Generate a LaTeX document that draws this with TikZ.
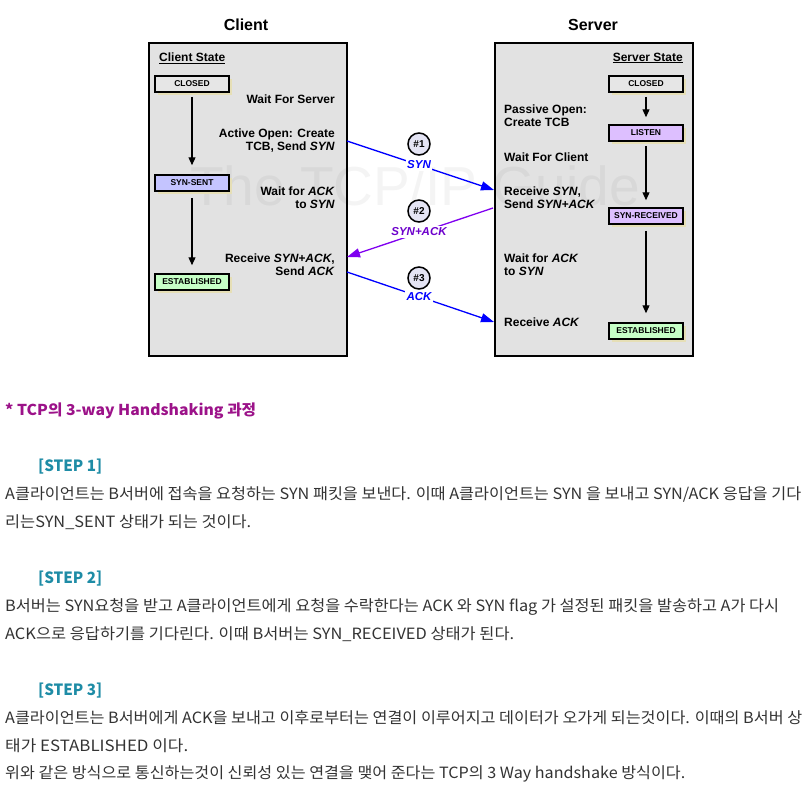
\documentclass[tikz,border=0pt]{standalone}
\usepackage{fontspec}
\setmainfont{Liberation Sans}
\newfontfamily\kr{Noto Sans CJK KR}
\usepackage{graphicx}
\usetikzlibrary{arrows.meta,shadows}
\definecolor{panelgray}{HTML}{E2E2E2}
\definecolor{boxgray}{HTML}{E6E6E6}
\definecolor{synsentc}{HTML}{C4C4FF}
\definecolor{listenc}{HTML}{DDBFFF}
\definecolor{estabc}{HTML}{C6FFC6}
\definecolor{shadowc}{HTML}{E6DFB6}
\definecolor{circc}{HTML}{E4E4F4}
\definecolor{blueln}{HTML}{0000FF}
\definecolor{purpln}{HTML}{8000F0}
\definecolor{headc}{HTML}{9C1289}
\definecolor{stepc}{HTML}{1E8CA6}
\definecolor{bodyc}{HTML}{333333}
\newcommand\fitw[2]{\resizebox{#1pt}{\height}{#2}}
\tikzset{
  panel/.style={draw=black, line width=2pt, fill=panelgray},
  statebox/.style={draw=black, line width=1.5pt, minimum width=74pt, minimum height=16pt, inner sep=0pt,
    font=\bfseries\fontsize{8.5}{9}\selectfont,
    drop shadow={shadow xshift=3pt, shadow yshift=-3pt, fill=shadowc, opacity=1}},
  lbl/.style={font=\bfseries\fontsize{12}{13}\selectfont, inner sep=0pt},
  ttl/.style={font=\bfseries\fontsize{16}{18}\selectfont, inner sep=0pt},
  stateflow/.style={line width=1.2pt, -{Triangle[length=8pt,width=7pt]}},
  msgnum/.style={circle, draw=black, line width=1.5pt, fill=circc, minimum size=22pt, inner sep=0pt,
    font=\bfseries\fontsize{10}{12}\selectfont},
  msglbl/.style={fill=white, inner sep=1.5pt, font=\bfseries\itshape\fontsize{11.5}{13}\selectfont},
  msgline/.style={line width=1.3pt, -{Triangle[length=13pt,width=9pt]}},
  body/.style={anchor=base west, inner sep=0pt, text=bodyc, font=\kr\fontsize{15.5}{18}\selectfont},
  stepl/.style={anchor=base west, inner sep=0pt, text=stepc, font=\kr\bfseries\fontsize{15.5}{18}\selectfont},
}
\begin{document}
\begin{tikzpicture}[x=1pt,y=-1pt]
\useasboundingbox[fill=white] (0,0) rectangle (811,785);
% titles
\node[ttl] (ctitle) at (246,25) {Client};
\node[ttl] (stitle) at (593,25) {Server};
% panels
\node[panel, anchor=north west, minimum width=198pt, minimum height=313pt, inner sep=0pt] (cpanel) at (148,42) {};
\node[panel, anchor=north west, minimum width=198pt, minimum height=313pt, inner sep=0pt] (spanel) at (494,42) {};
% watermark
\node[text=black, opacity=0.045, inner sep=0pt, font=\fontsize{55}{60}\selectfont] (wm) at (415,186) {\fitw{450}{The TCP/IP Guide}};
% client side
\node[lbl, anchor=west] (cstate) at (159,58) {\underline{Client State}};
\node[statebox, fill=boxgray] (cclosed) at (192,84) {CLOSED};
\node[statebox, fill=synsentc] (csynsent) at (192,183) {SYN-SENT};
\node[statebox, fill=estabc] (cestab) at (192,282) {ESTABLISHED};
\draw[stateflow, shorten <=4pt, shorten >=9pt] (cclosed) -- (csynsent);
\draw[stateflow, shorten <=6pt, shorten >=8pt] (csynsent) -- (cestab);
\node[lbl, anchor=east] (cwait) at (335,99) {Wait For Server};
\node[lbl, anchor=east, align=right] (cactive) at (335,140.5) {Active Open: Create\\TCB, Send \textit{SYN}};
\node[lbl, anchor=east, align=right] (cwaitack) at (335,197.5) {Wait for \textit{ACK}\\to \textit{SYN}};
\node[lbl, anchor=east, align=right] (crecv) at (335,264.5) {Receive \textit{SYN+ACK},\\Send \textit{ACK}};
% server side
\node[lbl, anchor=east] (sstate) at (683,58) {\underline{Server State}};
\node[statebox, fill=boxgray] (sclosed) at (646,84) {CLOSED};
\node[statebox, fill=listenc] (slisten) at (646,133) {LISTEN};
\node[statebox, fill=listenc] (ssynrcv) at (646,216) {SYN-RECEIVED};
\node[statebox, fill=estabc] (sestab) at (646,331) {ESTABLISHED};
\draw[stateflow, shorten <=4pt, shorten >=7pt] (sclosed) -- (slisten);
\draw[stateflow, shorten <=4pt, shorten >=7pt] (slisten) -- (ssynrcv);
\draw[stateflow, shorten <=6pt, shorten >=9pt] (ssynrcv) -- (sestab);
\node[lbl, anchor=west, align=left] (spassive) at (504,115.5) {Passive Open:\\Create TCB};
\node[lbl, anchor=west] (swait) at (504,157) {Wait For Client};
\node[lbl, anchor=west, align=left] (srecv) at (504,197.5) {Receive \textit{SYN},\\Send \textit{SYN+ACK}};
\node[lbl, anchor=west, align=left] (swaitack) at (504,264.5) {Wait for \textit{ACK}\\to \textit{SYN}};
\node[lbl, anchor=west] (srecvack) at (504,322) {Receive \textit{ACK}};
% message endpoints
\coordinate (m1a) at (347,141);
\coordinate (m1b) at (494,190);
\coordinate (m2a) at (493,208);
\coordinate (m2b) at (347,257);
\coordinate (m3a) at (347,272);
\coordinate (m3b) at (494,322);
\draw[msgline, draw=blueln, fill=blueln] (m1a) -- (m1b);
\draw[msgline, draw=purpln, fill=purpln] (m2a) -- (m2b);
\draw[msgline, draw=blueln, fill=blueln] (m3a) -- (m3b);
\node[msglbl, text=blueln] (l1) at (419,165) {SYN};
\node[msglbl, text=purpln!85!black] (l2) at (419,232) {SYN+ACK};
\node[msglbl, text=blueln] (l3) at (419,297) {ACK};
\node[msgnum] (n1) at (419,144) {\#1};
\node[msgnum] (n2) at (419,211) {\#2};
\node[msgnum] (n3) at (419,278) {\#3};
% text below
\node[anchor=base west, inner sep=0pt, text=headc, font=\kr\bfseries\fontsize{15}{18}\selectfont] (head) at (5,415.5) {\fitw{251}{* TCP의 3-way Handshaking 과정}};
\node[stepl] (s1) at (38,471.5) {\fitw{64}{[STEP 1]}};
\node[body] (b1) at (5,499.5) {\fitw{796}{A클라이언트는 B서버에 접속을 요청하는 SYN 패킷을 보낸다. 이때 A클라이언트는 SYN 을 보내고 SYN/ACK 응답을 기다}};
\node[body] (b2) at (5,527.5) {\fitw{246}{리는SYN\_SENT 상태가 되는 것이다.}};
\node[stepl] (s2) at (38,583.5) {\fitw{64}{[STEP 2]}};
\node[body] (b3) at (5,611.5) {\fitw{774}{B서버는 SYN요청을 받고 A클라이언트에게 요청을 수락한다는 ACK 와 SYN flag 가 설정된 패킷을 발송하고 A가 다시}};
\node[body] (b4) at (5,639.5) {\fitw{509}{ACK으로 응답하기를 기다린다. 이때 B서버는 SYN\_RECEIVED 상태가 된다.}};
\node[stepl] (s3) at (38,695.5) {\fitw{64}{[STEP 3]}};
\node[body] (b5) at (5,723.5) {\fitw{797}{A클라이언트는 B서버에게 ACK을 보내고 이후로부터는 연결이 이루어지고 데이터가 오가게 되는것이다. 이때의 B서버 상}};
\node[body] (b6) at (5,751.5) {\fitw{183}{태가 ESTABLISHED 이다.}};
\node[body] (b7) at (5,778.5) {\fitw{680}{위와 같은 방식으로 통신하는것이 신뢰성 있는 연결을 맺어 준다는 TCP의 3 Way handshake 방식이다.}};
\end{tikzpicture}
\end{document}
